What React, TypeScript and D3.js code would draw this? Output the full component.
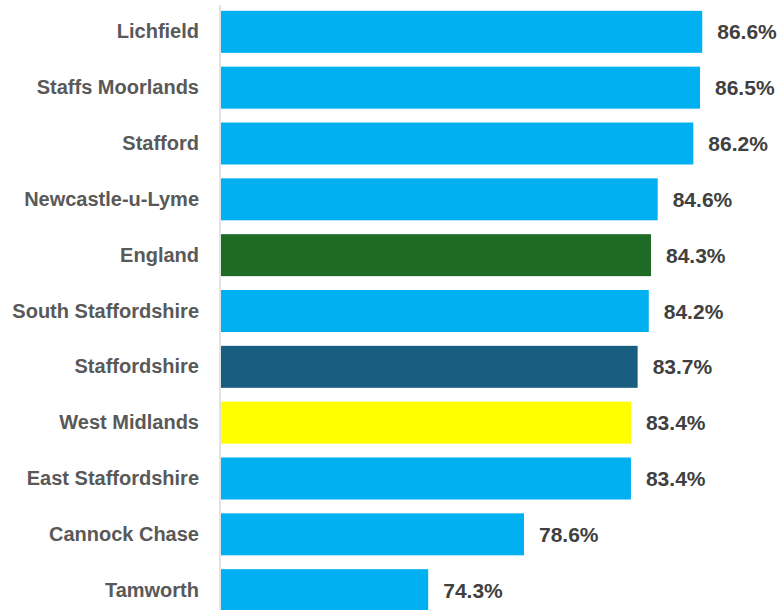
import React from "react";
import * as d3 from "d3";

const categories = [
  "Lichfield",
  "Staffs Moorlands",
  "Stafford",
  "Newcastle-u-Lyme",
  "England",
  "South Staffordshire",
  "Staffordshire",
  "West Midlands",
  "East Staffordshire",
  "Cannock Chase",
  "Tamworth",
];
const values = [86.6, 86.5, 86.2, 84.6, 84.3, 84.2, 83.7, 83.4, 83.4, 78.6, 74.3];
const colorKeys = ["d", "d", "d", "d", "eng", "d", "staffs", "wm", "d", "d", "d"];
const palette: Record<string, string> = {
  d: "#00B0F0",
  eng: "#1D6B24",
  staffs: "#175E80",
  wm: "#FFFF00",
};

const W = 781;
const H = 610;

export default function App() {
  const x = d3.scaleLinear().domain([65, 90]).range([221, 778]);
  const y = d3
    .scaleBand<string>()
    .domain(categories)
    .range([-3, 625])
    .paddingInner(0.248)
    .paddingOuter(0.248);
  const font = "'Liberation Sans', Arial, sans-serif";
  return (
    <svg
      width={W}
      height={H}
      style={{ position: "absolute", left: 0, top: 0, background: "#fff" }}
    >
      {categories.map((c, i) => {
        const y0 = y(c)!;
        const bh = y.bandwidth();
        const cy = y0 + bh / 2;
        return (
          <g key={c}>
            <rect
              x={x(65)}
              y={y0}
              width={x(values[i]) - x(65)}
              height={bh}
              fill={palette[colorKeys[i]]}
            />
            <text
              x={199}
              y={cy + 6.5}
              textAnchor="end"
              fontFamily={font}
              fontWeight="bold"
              fontSize={20}
              fill="#595959"
            >
              {c}
            </text>
            <text
              x={x(values[i]) + 15}
              y={cy + 7.5}
              fontFamily={font}
              fontWeight="bold"
              fontSize={21}
              fill="#404040"
            >
              {values[i].toFixed(1) + "%"}
            </text>
          </g>
        );
      })}
      <line x1={220} x2={220} y1={5} y2={H} stroke="#D9D9D9" strokeWidth={1.5} />
    </svg>
  );
}
